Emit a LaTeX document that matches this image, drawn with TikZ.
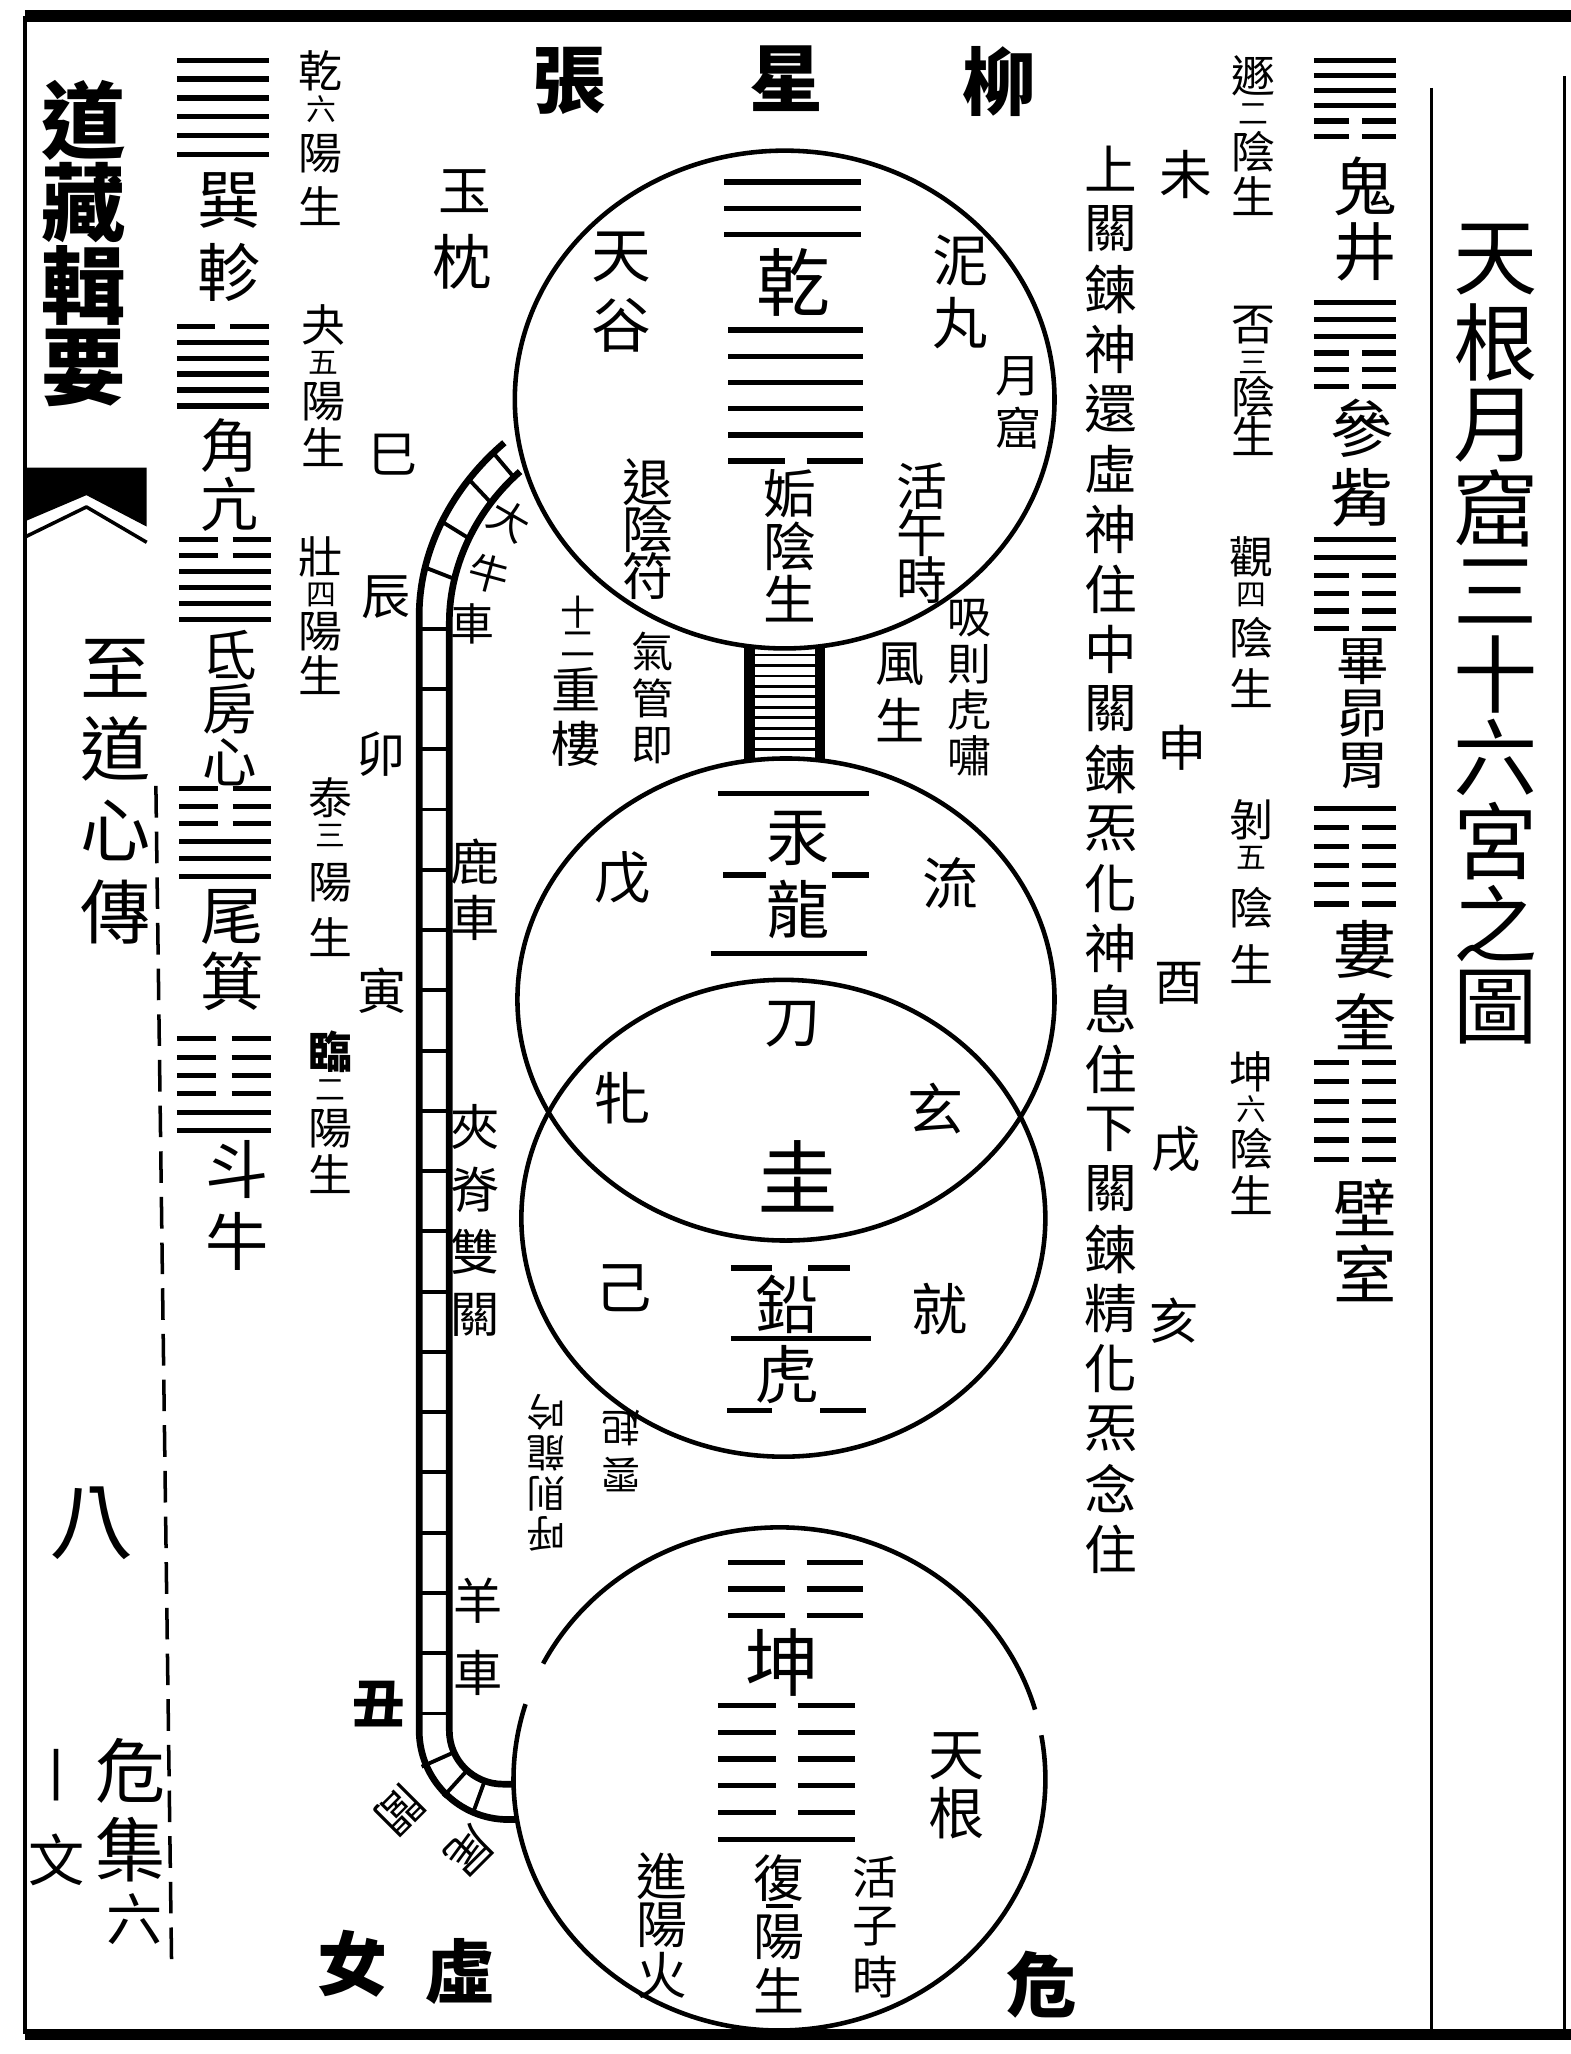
\documentclass[tikz,border=0pt]{standalone}
\usepackage{fontspec}
\setmainfont{Noto Sans CJK TC}
\usetikzlibrary{calc}

\tikzset{
  zi/.style={inner sep=0pt, outer sep=0pt, anchor=center},
  yao/.style={line width=1.5pt},
  rim/.style={line width=1.3pt},
  rail/.style={line width=1.9pt},
  rung/.style={line width=1.1pt},
}
\newcommand{\fsz}[1]{\fontsize{#1}{#1}\selectfont}

% one column of characters, top to bottom
\newcommand{\vtext}[7][]{%
  \foreach \ch [count=\k] in {#7} {%
    \node[zi, font=\fsz{#6}, #1] (#2-\k) at (#3,{#4+(\k-1)*#5}) {\ch};
  }}

% a "n yang/yin sheng" label with its small number: name, x, top, bottom, four chars
\newcommand{\xiao}[9][]{%
  \pgfmathsetmacro{\xiaoA}{#4+17}%
  \pgfmathsetmacro{\xiaoD}{#4+46}%
  \pgfmathsetmacro{\xiaoC}{#5-17}%
  \pgfmathsetmacro{\xiaoB}{(\xiaoD+\xiaoC-5)/2}%
  \node[zi, font=\fsz{12.5}, #1] (#2-1) at (#3,\xiaoA) {#6};
  \node[zi, font=\fsz{8.5}] (#2-2) at (#3,\xiaoD) {#7};
  \node[zi, font=\fsz{12.5}] (#2-3) at (#3,\xiaoB) {#8};
  \node[zi, font=\fsz{12.5}] (#2-4) at (#3,\xiaoC) {#9};}

% lines of a gua: left x, right x, top y, step, pattern (1 solid, 0 broken)
\newcommand{\gua}[5]{%
  \pgfmathsetmacro{\gual}{#1+0.42*(#2-#1)}%
  \pgfmathsetmacro{\guar}{#1+0.58*(#2-#1)}%
  \foreach \yy [count=\k from 0] in {#5} {%
    \pgfmathsetmacro{\guay}{#3+\k*#4}%
    \ifnum\yy=1
      \draw[yao] (#1,\guay) -- (#2,\guay);
    \else
      \draw[yao] (#1,\guay) -- (\gual,\guay) (\guar,\guay) -- (#2,\guay);
    \fi
  }}

\begin{document}
\begin{tikzpicture}[x=0.0131cm, y=-0.0131cm, line join=round]

  \fill[white] (0,0) rectangle (1199,1568);
  \useasboundingbox (0,0) rectangle (1199,1568);

  % Frame
  \draw[line width=3.3pt] (19,12) -- (1199,12);
  \draw[line width=3.3pt] (19,1553) -- (1199,1553);
  \draw[line width=1.2pt] (19,12) -- (19,1553);
  \draw[line width=0.9pt] (1093,67) -- (1093,1553);
  \draw[line width=0.9pt] (1194,58) -- (1194,1553);

  % Left margin
  \vtext[font=\fsz{24}\bfseries]{book}{64}{92}{63}{24}{道,藏,輯,要}
  \fill (19,357) -- (112,357) -- (112,402) -- (66,378) -- (19,398) -- cycle;
  \draw[line width=1pt] (19,410) -- (66,387) -- (112,414);
  \vtext{chapter}{88}{510}{62}{20}{至,道,心,傳}
  \node[zi, font=\fsz{24}] (juan) at (70,1163) {八};
  \node[zi, font=\fsz{20}] (ji-1) at (100,1352) {危};
  \node[zi, font=\fsz{20}] (ji-2) at (100,1412) {集};
  \node[zi, font=\fsz{16}] (ji-3) at (103,1465) {六};
  \node[zi, font=\fsz{16}] (page-1) at (43,1355) {丨};
  \node[zi, font=\fsz{16}] (page-2) at (43,1420) {文};
  \draw[line width=1pt, dash pattern=on 9pt off 4pt] (119,600) -- (131,1500);

  % Title
  \vtext{title}{1142}{198}{63.4}{24}{天,根,月,窟,三,十,六,宮,之,圖}

  % Mansions, top and bottom
  \node[zi, font=\fsz{21}\bfseries] (zhang) at (435,62) {張};
  \node[zi, font=\fsz{21}\bfseries] (xing) at (600,60) {星};
  \node[zi, font=\fsz{21}\bfseries] (liu) at (763,62) {柳};
  \node[zi, font=\fsz{20}\bfseries] (nv) at (269,1499) {女};
  \node[zi, font=\fsz{20}\bfseries] (xu) at (351,1505) {虛};
  \node[zi, font=\fsz{20}\bfseries] (wei) at (795,1515) {危};

  % Left gua and mansions
  \gua{135}{205}{46}{14.4}{1,1,1,1,1,1}
  \gua{135}{205}{249}{12.2}{0,1,1,1,1,1}
  \gua{137}{207}{412}{12.2}{0,0,1,1,1,1}
  \gua{137}{207}{602}{13.4}{0,0,0,1,1,1}
  \gua{135}{207}{793}{14}{0,0,0,0,1,1}
  \vtext{xun}{175}{153}{55}{18}{巽,軫}
  \vtext{jiao}{175}{340}{45}{16.5}{角,亢}
  \vtext{di}{175}{500}{41}{15.5}{氐,房,心}
  \vtext{weiji}{177}{700}{49}{18}{尾,箕}
  \vtext{douniu}{181}{893}{55}{18}{斗,牛}

  % Yang growing
  \xiao{qian6}{245}{37}{174}{乾}{六}{陽}{生}
  \xiao{guai5}{247}{231}{358}{夬}{五}{陽}{生}
  \xiao{zhuang4}{245}{408}{532}{壯}{四}{陽}{生}
  \xiao{tai3}{252}{592}{732}{泰}{三}{陽}{生}
  \xiao[font=\fsz{12.5}\bfseries]{lin2}{252}{786}{913}{臨}{二}{陽}{生}

  % Branches
  \node[zi, font=\fsz{14}] (si) at (300,347) {巳};
  \node[zi, font=\fsz{14}] (chen) at (295,456) {辰};
  \node[zi, font=\fsz{14}] (mao) at (291,576) {卯};
  \node[zi, font=\fsz{14}] (yin) at (292,756) {寅};
  \node[zi, font=\fsz{15}\bfseries] (chou) at (289,1301) {丑};
  \node[zi, font=\fsz{15}] (wei8) at (905,133) {未};
  \node[zi, font=\fsz{14}] (shen) at (902,571) {申};
  \node[zi, font=\fsz{14}] (you) at (900,751) {酉};
  \node[zi, font=\fsz{14}] (xu11) at (898,877) {戌};
  \node[zi, font=\fsz{14}] (hai) at (896,1008) {亥};

  % Right gua and mansions
  \gua{1003}{1066}{46}{11.6}{1,1,1,1,0,0}
  \gua{1003}{1066}{231}{12.8}{1,1,1,0,0,0}
  \gua{1003}{1066}{412}{13.6}{1,1,0,0,0,0}
  \gua{1003}{1066}{617}{14.6}{1,0,0,0,0,0}
  \gua{1003}{1066}{811}{14.8}{0,0,0,0,0,0}
  \vtext{gui}{1042}{142}{50}{18}{鬼,井}
  \vtext{can}{1040}{327}{53}{18}{參,觜}
  \vtext{bi}{1040}{505}{40}{15}{畢,昴,胃}
  \vtext{lou}{1042}{725}{55}{18}{婁,奎}
  \vtext{bishi}{1042}{922}{50}{18}{壁,室}

  % Yin growing
  \xiao{dun2}{957}{41}{167}{遯}{二}{陰}{生}
  \xiao{pi3}{957}{231}{350}{否}{三}{陰}{生}
  \xiao{guan4}{955}{408}{542}{觀}{四}{陰}{生}
  \xiao{bo5}{955}{609}{753}{剝}{五}{陰}{生}
  \xiao{kun6}{955}{801}{929}{坤}{六}{陰}{生}

  % Three passes
  \vtext{lian}{848}{129}{45.8}{15}{上,關,鍊,神,還,虛,神,住,中,關,鍊,炁,化,神,息,住,下,關,鍊,精,化,炁,念,住}

  % Qian circle
  \draw[rim] (599,305) ellipse [x radius=206, y radius=190];
  \gua{553}{657}{139}{20}{1,1,1}
  \node[zi, font=\fsz{21}] (qian) at (606,216) {乾};
  \gua{556}{659}{252}{20}{1,1,1,1,1,0}
  \vtext{gou}{603}{377}{40}{15}{姤,陰,生}
  \vtext{tiangu}{474}{196}{52}{17}{天,谷}
  \vtext{niwan}{733}{199}{48}{16}{泥,丸}
  \vtext{yueku}{777}{287}{40}{13}{月,窟}
  \vtext{tuiyin}{495}{368}{36}{14.5}{退,陰,符}
  \vtext{wushi}{704}{371}{36}{14.5}{活,午,時}
  \node[zi, font=\fsz{15}] (yuzhen-1) at (355,146) {玉};
  \node[zi, font=\fsz{17}] (yuzhen-2) at (353,200) {枕};

  % Neck between circles
  \draw[line width=3pt] (572,494) -- (572,581) (626,494) -- (626,581);
  \foreach \y in {500,508,...,574}
    \draw[line width=0.8pt] (572,\y) -- (626,\y);
  \node[zi, font=\fsz{10}] (lou-1) at (441,467) {十};
  \node[zi, font=\fsz{10}] (lou-2) at (441,492) {二};
  \node[zi, font=\fsz{14}] (lou-3) at (440,526) {重};
  \node[zi, font=\fsz{14}] (lou-4) at (440,568) {樓};
  \vtext{qiguan}{498}{497}{36}{12}{氣,管,即}
  \vtext{fengsheng}{687}{507}{43}{14}{風,生}
  \vtext{huxiao}{740}{472}{35}{12.5}{吸,則,虎,嘯}

  % Dragon and tiger circles
  \draw[rim] (600,763) ellipse [x radius=205, y radius=184];
  \draw[rim] (598,930) ellipse [x radius=200, y radius=182];
  \draw[yao] (548,606) -- (663,606);
  \draw[yao] (552,668) -- (585,668) (635,668) -- (663,668);
  \draw[yao] (543,728) -- (662,728);
  \node[zi, font=\fsz{18}] (gong) at (609,640) {汞};
  \node[zi, font=\fsz{18}] (long) at (609,694) {龍};
  \node[zi, font=\fsz{16}] (wu) at (475,670) {戊};
  \node[zi, font=\fsz{16}] (liu2) at (726,674) {流};
  \node[zi, font=\fsz{16}] (dao) at (605,782) {刀};
  \node[zi, font=\fsz{16}] (pin) at (475,838) {牝};
  \node[zi, font=\fsz{16}] (xuan) at (714,846) {玄};
  \node[zi, font=\fsz{23}] (gui2) at (609,898) {圭};
  \node[zi, font=\fsz{16}] (ji6) at (476,983) {己};
  \node[zi, font=\fsz{16}] (jiu) at (717,999) {就};
  \draw[yao] (558,968) -- (589,968) (617,968) -- (649,968);
  \draw[yao] (558,1022) -- (665,1022);
  \draw[yao] (555,1077) -- (589,1077) (626,1077) -- (661,1077);
  \node[zi, font=\fsz{18}] (qian2) at (601,996) {鉛};
  \node[zi, font=\fsz{18}] (hu) at (601,1049) {虎};

  % Kun circle
  \draw[rim] ([shift={(350:203 and 192)}]595,1358)
    arc[start angle=350, end angle=557.3, x radius=203, y radius=192];
  \draw[rim] ([shift={(207.3:203 and 192)}]595,1358)
    arc[start angle=207.3, end angle=344, x radius=203, y radius=192];
  \gua{556}{659}{1193}{20}{0,0,0}
  \node[zi, font=\fsz{21}] (kun) at (597,1269) {坤};
  \gua{548}{653}{1302}{20.4}{0,0,0,0,0,1}
  \node[zi, font=\fsz{14.5}] (fu-1) at (595,1434) {復};
  \draw[line width=1pt] (585,1455) -- (605,1455);
  \node[zi, font=\fsz{14.5}] (fu-3) at (595,1479) {陽};
  \node[zi, font=\fsz{14.5}] (fu-4) at (595,1519) {生};
  \vtext{tiangen}{730}{1341}{43}{16}{天,根}
  \vtext{jinyang}{505}{1432}{38}{14.5}{進,陽,火}
  \vtext{zishi}{668}{1433}{38}{13}{活,子,時}
  \node[zi, font=\fsz{11}, rotate=180] (hu-1) at (417,1078) {吟};
  \node[zi, font=\fsz{11}, rotate=180] (hu-2) at (417,1109) {龍};
  \node[zi, font=\fsz{11}, rotate=180] (hu-3) at (417,1140) {則};
  \node[zi, font=\fsz{11}, rotate=180] (hu-4) at (417,1171) {呼};
  \node[zi, font=\fsz{11}, rotate=180] (yun-1) at (474,1090) {起};
  \node[zi, font=\fsz{11}, rotate=180] (yun-2) at (474,1126) {雲};

  % River cart track
  \draw[rail] (385,338) .. controls (345,372) and (320,420) .. (320,470)
    -- (320,1321) arc[start angle=180, end angle=90, radius=68] -- (395,1389);
  \draw[rail] (397,360) .. controls (365,388) and (343,430) .. (343,475)
    -- (343,1321) arc[start angle=180, end angle=90, radius=41] -- (392,1362);
  \foreach \y in {480,526,...,1310}
    \draw[rung] (320,\y) -- (343,\y);
  \foreach \a in {156,132,110}
    \draw[rung] ([shift={(\a:68)}]384,1321) -- ([shift={(\a:41)}]384,1321);
  \draw[rung] (376,345) -- (392,364);
  \draw[rung] (358,366) -- (375,384);
  \draw[rung] (337,398) -- (358,411);
  \draw[rung] (324,433) -- (347,442);
  \node[zi, font=\fsz{11.5}, rotate=-30] (niuche-1) at (389,397) {大};
  \node[zi, font=\fsz{11.5}, rotate=-15] (niuche-2) at (373,438) {牛};
  \node[zi, font=\fsz{12.5}] (niuche-3) at (361,476) {車};
  \vtext{luche}{363}{658}{43}{14}{鹿,車}
  \vtext{jiaji}{363}{860}{48}{14}{夾,脊,雙,關}
  \vtext{yangche}{365}{1222}{55}{14}{羊,車}
  \node[zi, font=\fsz{13}, rotate=-135] (weilv-1) at (358,1413) {尾};
  \node[zi, font=\fsz{13}, rotate=-135] (weilv-2) at (305,1382) {閭};

\end{tikzpicture}
\end{document}
